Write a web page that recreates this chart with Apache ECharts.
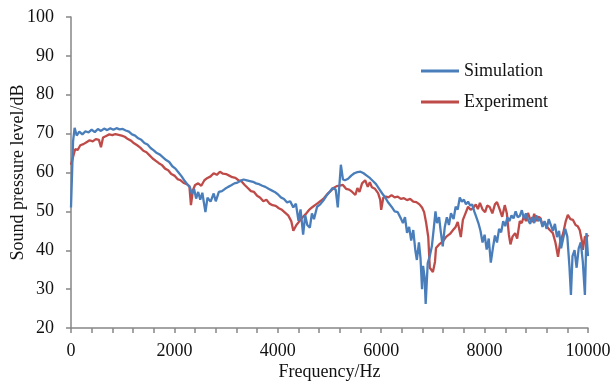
<!DOCTYPE html>
<html>
<head>
<meta charset="utf-8">
<script src="https://cdn.jsdelivr.net/npm/echarts@6/dist/echarts.min.js"></script>
<style>
  html, body { margin: 0; padding: 0; background: #fff; }
  #main { width: 615px; height: 382px; }
</style>
</head>
<body>
<div id="main"></div>
<script>
// values
var simFreq = [0,40,70,110,160,220,280,340,400,460,520,580,640,700,760,820,880,940,1000,1060,1120,1180,1240,1300,1360,1420,1480,1540,1600,1660,1720,1780,1840,1900,1960,2020,2080,2140,2200,2260,2300,2340,2380,2420,2460,2500,2540,2600,2640,2700,2760,2800,2860,2920,2980,3040,3100,3160,3220,3280,3340,3400,3460,3520,3580,3640,3700,3760,3820,3880,3940,4000,4060,4120,4180,4240,4300,4350,4400,4440,4490,4530,4570,4620,4660,4700,4760,4820,4880,4940,5000,5060,5120,5160,5220,5260,5300,5360,5420,5480,5540,5600,5660,5720,5780,5840,5900,5960,6020,6080,6140,6200,6260,6320,6380,6420,6460,6500,6540,6580,6620,6660,6690,6730,6760,6790,6810,6840,6860,6900,6940,6980,7020,7050,7080,7120,7150,7190,7230,7270,7310,7350,7400,7440,7480,7520,7560,7600,7640,7680,7720,7760,7800,7840,7880,7920,7960,8000,8040,8080,8120,8160,8200,8240,8280,8320,8360,8400,8440,8480,8520,8560,8600,8640,8680,8720,8760,8800,8840,8880,8920,8960,9000,9040,9080,9120,9160,9200,9240,9280,9320,9360,9400,9440,9480,9520,9560,9600,9640,9670,9700,9740,9780,9820,9860,9900,9940,9970,10000];
var simLevel = [51,68,71.5,69.5,70.5,69.8,70.6,70.3,71,70.4,71.2,70.7,71.3,70.9,71.4,71,71.4,71.1,71.2,70.8,70.5,69.8,69.5,68.8,68.4,67.6,67.2,66.3,65.7,65,64.6,63.9,63.2,62.7,61.6,61,60,59,57.8,56.8,56.2,54.5,55.8,53.3,55,53,54.8,49.8,53.5,52.5,54.6,52.6,55,55.2,55.8,56.3,56.7,57.2,57.4,57.9,58.2,58,57.8,57.6,57.2,57,56.6,56.3,55.8,55.4,55,54.4,53.6,53.2,52.3,52.6,51,52,47.6,50.5,44,49,46.5,45.8,49.5,48,51.2,51.8,52.8,54,55,56,55.6,51,62,58.2,58,58.4,59.2,59.8,60.1,60.2,59.8,59.2,58.6,57.8,57,55.8,54.6,53.5,52.2,51.2,50,49.8,48.2,47,48.5,44.5,46,42.5,45.2,40,37.5,42,38,30,36,33,26.2,36.7,38.5,41,46,50,47,48.5,45,41,46,48.5,46.5,49.5,48,51.2,50.5,53.6,52.5,53,51.8,52.5,51.5,51.8,50,48.5,47,45,42,44,40.2,43,36.8,40.5,43.8,42,45.5,44.6,47.5,46.2,48.5,47.5,49,48.2,50,48.5,48.8,50.3,48.2,49.5,47.8,46.8,48.5,47,49,47.5,48.2,46,47.5,45.5,48,46.5,45,46.8,43.4,45,40.5,43,45.5,43.5,36,28.5,38.5,40,35.5,40.5,42,37,28.5,44.4,38.5];

var expFreq = [0,40,80,130,180,240,300,360,420,480,540,580,620,680,740,800,860,920,980,1040,1100,1160,1220,1280,1340,1400,1460,1520,1580,1640,1700,1760,1820,1880,1940,2000,2060,2120,2180,2240,2290,2320,2360,2400,2460,2520,2580,2640,2700,2760,2820,2880,2940,3000,3060,3120,3180,3240,3300,3360,3420,3480,3540,3600,3660,3720,3780,3840,3900,3960,4020,4080,4140,4200,4260,4300,4360,4420,4480,4540,4600,4660,4720,4780,4840,4900,4960,5020,5080,5140,5200,5260,5320,5380,5440,5500,5540,5580,5630,5690,5740,5780,5820,5880,5940,5980,6000,6040,6090,6140,6200,6260,6320,6380,6440,6500,6560,6620,6680,6740,6790,6830,6870,6910,6940,7000,7040,7060,7120,7190,7260,7330,7390,7440,7480,7540,7580,7630,7680,7730,7780,7830,7870,7910,7960,8010,8050,8100,8150,8200,8240,8290,8340,8390,8430,8470,8500,8540,8590,8630,8680,8720,8760,8800,8840,8880,8920,8960,9000,9040,9080,9120,9160,9210,9260,9320,9370,9420,9460,9520,9570,9610,9660,9710,9760,9800,9840,9880,9900,9940,9980,10000];
var expLevel = [62,64,66,65.8,67,67.3,67.8,68.3,68,68.6,68.4,66.5,69,69.4,69.8,69.6,69.9,69.7,69.5,69.2,68.6,68.2,67.5,67,66.4,65.6,65.2,64.4,63.6,63,62.4,61.9,61,60.6,59.6,59.2,58.3,58,57.3,57,56.5,51.6,55.5,56.8,57.2,56.6,58,58.6,59,59.8,59.4,60.2,59.7,59.6,59.2,58.8,58.6,58,57.7,56.8,56,55.2,55,54,53.5,52.6,53,52,51.6,51.4,50.8,50.4,49.7,49,47.5,45,46.5,47.5,48.5,49.3,50.3,51,51.6,52.2,52.8,53.5,54.5,55.2,56,56.5,56.6,56.8,55.8,55.6,55,54.2,56,55,57.2,58,56.3,57.5,56.2,55.8,54.7,53,50.4,53.5,53.8,53.6,54.2,53.6,53.8,53.2,53.4,52.9,53.2,52.5,52.4,51.8,51,49.8,47,43.4,35.5,34.4,37,40.6,41.5,42.2,43.5,44.2,45.2,46,47.3,43.4,47.8,49.5,51.2,50.4,50.9,51.8,50.6,52.2,50.5,49.8,51.5,51.1,49.5,51.8,52.4,50.6,48.6,51.6,49.5,44,41.5,43.5,44.4,43,47.5,47,48.8,47.5,49.6,48,47.3,49.4,47.5,48.6,48.3,46.4,47.2,46,45.2,44.4,42,38.3,42,44.4,47.5,49.1,48,47.8,46.5,46.2,45.2,42.5,40.1,43.5,43.4,44];

var xTicks = { min: 0, max: 10000, step: 2000 };
var yTicks = { min: 20, max: 100, step: 10 };

function pairs(xs, ys) {
  var out = [];
  for (var i = 0; i < xs.length; i++) out.push([xs[i], ys[i]]);
  return out;
}

var font = 'Liberation Serif';
var axisColor = '#868686';
var textColor = '#111';

var myChart = echarts.init(document.getElementById('main'));
var option = {
  animation: false,
  backgroundColor: '#fff',
  textStyle: { fontFamily: font },
  grid: { left: 71, right: 27, top: 17, bottom: 54, containLabel: false, outerBoundsMode: 'none' },
  legend: {
    orient: 'vertical',
    left: 421,
    top: 62,
    padding: 0,
    itemWidth: 38,
    itemHeight: 3,
    itemGap: 13,
    icon: 'rect',
    textStyle: { fontFamily: font, fontSize: 18, color: textColor },
    data: ['Simulation', 'Experiment']
  },
  xAxis: {
    type: 'value',
    min: xTicks.min,
    max: xTicks.max,
    interval: xTicks.step,
    name: 'Frequency/Hz',
    nameLocation: 'middle',
    nameGap: 35,
    nameMoveOverlap: false,
    nameTextStyle: { fontFamily: font, fontSize: 18, color: textColor },
    axisLine: { lineStyle: { color: axisColor, width: 1.5 } },
    axisTick: { length: 5, lineStyle: { color: axisColor, width: 1.5 } },
    minorTick: { show: true, splitNumber: 5, length: 5, lineStyle: { color: axisColor, width: 1.5 } },
    axisLabel: {
      fontFamily: font, fontSize: 18, color: textColor, margin: 14,
      formatter: function (v) { return String(v); }
    },
    splitLine: { show: false }
  },
  yAxis: {
    type: 'value',
    min: yTicks.min,
    max: yTicks.max,
    interval: yTicks.step,
    name: 'Sound pressure level/dB',
    nameLocation: 'middle',
    nameGap: 44,
    nameMoveOverlap: false,
    nameTextStyle: { fontFamily: font, fontSize: 18, color: textColor },
    axisLine: { show: true, lineStyle: { color: axisColor, width: 1.5 } },
    axisTick: { show: true, length: 5, lineStyle: { color: axisColor, width: 1.5 } },
    axisLabel: { fontFamily: font, fontSize: 18, color: textColor, margin: 17 },
    splitLine: { show: false }
  },
  series: [
    {
      name: 'Simulation',
      type: 'line',
      data: pairs(simFreq, simLevel),
      showSymbol: false,
      symbol: 'none',
      color: '#4a7ebb',
      lineStyle: { width: 2.3, color: '#4a7ebb' },
      z: 3
    },
    {
      name: 'Experiment',
      type: 'line',
      data: pairs(expFreq, expLevel),
      showSymbol: false,
      symbol: 'none',
      color: '#be4b48',
      lineStyle: { width: 2.3, color: '#be4b48' },
      z: 2
    }
  ]
};
myChart.setOption(option);
</script>
</body>
</html>
